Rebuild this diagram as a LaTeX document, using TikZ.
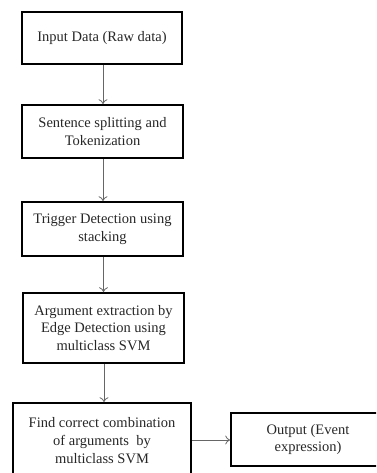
\documentclass[tikz,border=0pt]{standalone}
\usepackage{fontspec}
\setmainfont{Liberation Serif}
\usetikzlibrary{arrows.meta}
\begin{document}
\begin{tikzpicture}[x=1pt,y=-1pt,
  box/.style={draw=black,line width=1.6pt,rectangle,align=center,inner sep=0pt,
    font=\fontsize{14.5}{17.7}\selectfont,text=black!85},
  txt/.style={align=center,inner sep=0pt,font=\fontsize{14.5}{17.7}\selectfont,text=black!85},
  conn/.style={draw=black!60,line width=0.8pt,-{To[length=5pt,width=9pt]}}]
\useasboundingbox (0,0) rectangle (376,473);
\clip (0,0) rectangle (376,473);
\node[box,minimum width=160pt,minimum height=52pt] (n1) at (102,38) {Input Data (Raw data)};
\node[box,minimum width=161pt,minimum height=53pt] (n2) at (102.5,131.5) {Sentence splitting and\\Tokenization};
\node[box,minimum width=161pt,minimum height=54pt] (n3) at (102.5,229) {Trigger Detection using\\stacking};
\node[box,minimum width=161pt,minimum height=70pt] (n4) at (103.5,328) {Argument extraction by\\Edge Detection using\\multiclass SVM};
\node[box,minimum width=178pt,minimum height=75pt] (n5) at (102,440.5) {Find correct combination\\of arguments~~by\\multiclass SVM};
\node[box,minimum width=170pt,minimum height=53pt] (n6) at (316,439.5) {};
\node[txt] (n6t) at (308,439.5) {Output (Event\\expression)};
\draw[conn] (n1.south -| 103,0) -- (n2.north -| 103,0);
\draw[conn] (n2.south -| 103,0) -- (n3.north -| 103,0);
\draw[conn] (n3.south -| 103.5,0) -- (n4.north -| 103.5,0);
\draw[conn] (n4.south -| 104,0) -- (n5.north -| 104,0);
\draw[conn] (n5.east |- 0,440) -- (n6.west |- 0,440);
\end{tikzpicture}
\end{document}
